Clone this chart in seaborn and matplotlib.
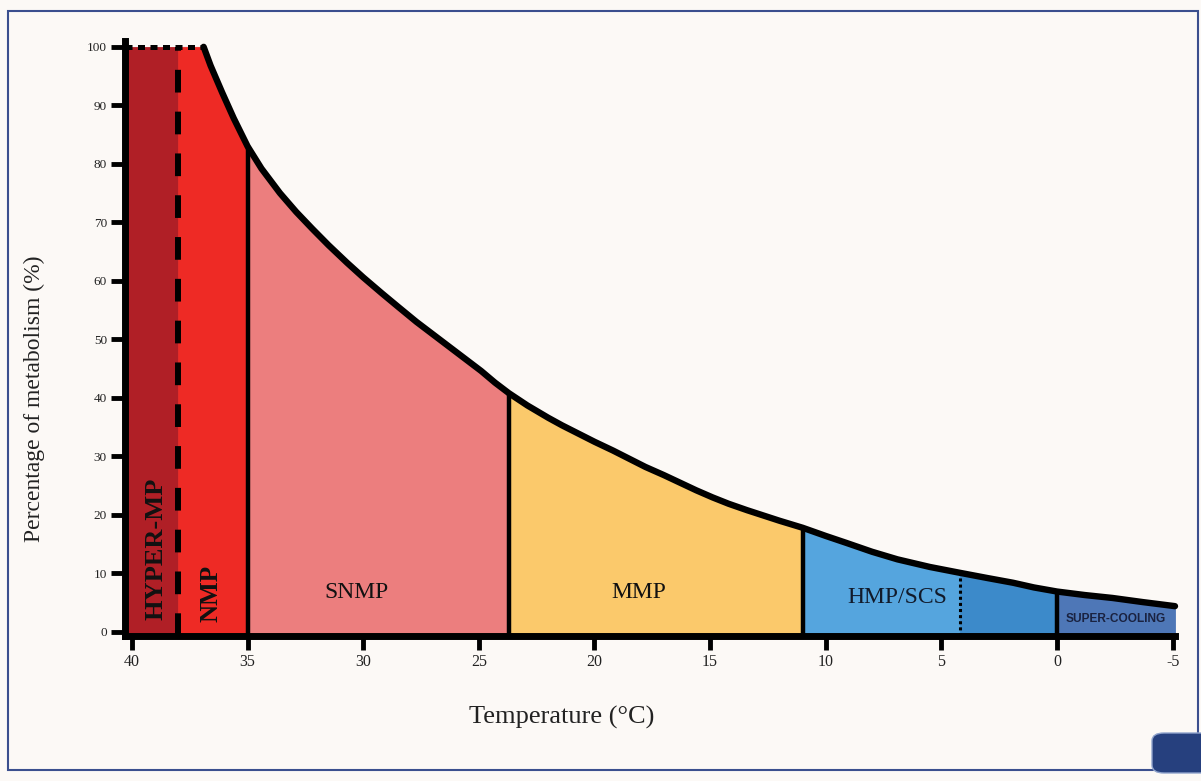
import matplotlib
matplotlib.use("Agg")
import matplotlib.pyplot as plt
from matplotlib.patches import Rectangle, FancyBboxPatch
import numpy as np
import seaborn as sns

# values (temperature in degC, metabolism in %)
temperature = [40.3, 38, 36.9, 36.6, 36.1, 35.6, 35, 34.4, 33.6, 32.9, 32.2, 31.5,
               30.7, 30.0, 29.2, 28.5, 27.7, 27.0, 26.3, 25.6, 24.9, 24.3, 23.7,
               22.9, 22.0, 21.4, 20.8, 20.0, 19.2, 18.5, 17.8, 17.0, 16.3, 15.6,
               14.9, 14.2, 13.4, 12.7, 12.0, 11.0, 10.0, 9.1, 8.0, 6.9, 5.5, 4.2,
               3.0, 1.9, 1.0, 0, -1.2, -2.4, -3.7, -5.1]
metabolism = [100, 100, 100, 96.8, 92.2, 87.8, 83, 79.2, 75.0, 71.8, 68.9, 66.1,
              63.1, 60.6, 57.9, 55.6, 53.0, 50.9, 48.8, 46.7, 44.6, 42.6, 40.8,
              38.7, 36.6, 35.3, 34.1, 32.5, 31.0, 29.6, 28.2, 26.8, 25.5, 24.2,
              23.0, 21.9, 20.8, 19.9, 19.0, 17.8, 16.4, 15.2, 13.7, 12.4, 11.1, 10.1,
              9.2, 8.4, 7.6, 6.9, 6.3, 5.8, 5.1, 4.4]

# zones: label, from temp, to temp, colour
zone_names = ["HYPER-MP", "NMP", "SNMP", "MMP", "HMP/SCS", "HMP/SCS deep", "SUPER-COOLING"]
zone_starts = [40.3, 38, 35, 23.7, 11, 4.2, 0]
zone_ends = [38, 35, 23.7, 11, 4.2, 0, -5.1]
zone_colors = ["#B01F26", "#EE2A25", "#EC7E7E", "#FBC96B", "#55A5DE", "#3C8ACA", "#4E77B7"]

solid_edges = [35, 23.7, 11, 0]
dashed_edge = 38
dotted_edge = 4.2
plateau_end = 36.9

x_ticks = [40, 35, 30, 25, 20, 15, 10, 5, 0, -5]
y_ticks = [0, 10, 20, 30, 40, 50, 60, 70, 80, 90, 100]

bg = "#FCF9F6"
sns.set_style("white")
plt.rcParams["font.family"] = ["Liberation Serif", "DejaVu Serif"]

T = np.array(temperature)
M = np.array(metabolism)

def curve_at(t):
    return M[np.argmin(np.abs(T - t))]

fig = plt.figure(figsize=(12.01, 7.81), dpi=100, facecolor=bg)
W, H = 1201, 781
ax = fig.add_axes([125 / W, (H - 636) / H, 1050 / W, (636 - 41) / H])
ax.set_facecolor(bg)
ax.set_xlim(40.3, -5.1)
ax.set_ylim(-0.7, 101)

# filled zones under the curve
for name, a, b, c in zip(zone_names, zone_starts, zone_ends, zone_colors):
    m = (T <= a + 1e-9) & (T >= b - 1e-9)
    ax.fill_between(T[m], -0.7, M[m], facecolor=c, edgecolor=c, lw=0.6, zorder=1)

# zone boundaries
for e in solid_edges:
    ax.plot([e, e], [-0.7, curve_at(e)], color="black", lw=3.2, zorder=3)
ax.plot([dashed_edge, dashed_edge], [-0.7, 100], color="black", lw=4.3,
        dashes=(3.8, 3.2), zorder=3)
ax.plot([dotted_edge, dotted_edge], [-0.7, curve_at(dotted_edge)], color="black",
        lw=2.2, dashes=(1, 1), zorder=3)

# metabolism curve
m = T <= plateau_end
sns.lineplot(x=T[m], y=M[m], ax=ax, color="black", lw=4.6, estimator=None,
             zorder=4, clip_on=False)
m = T >= plateau_end
ax.plot(T[m], M[m], color="black", lw=3.6, dashes=(1.4, 1.1), zorder=4, clip_on=False)

# zone labels
ax.text(38.96, 14.2, "HYPER-MP", rotation=90, ha="center", va="center",
        fontsize=19, fontweight="bold", color="#111111", zorder=5)
ax.text(36.6, 6.6, "NMP", rotation=90, ha="center", va="center",
        fontsize=18, fontweight="bold", color="#111111", zorder=5)
ax.text(30.3, 6.7, "SNMP", ha="center", va="center", fontsize=17, color="#111111", zorder=5)
ax.text(18.1, 6.7, "MMP", ha="center", va="center", fontsize=17, color="#111111", zorder=5)
ax.text(6.9, 5.8, "HMP/SCS", ha="center", va="center", fontsize=17, color="#111a2a", zorder=5)
ax.text(-2.55, 2.2, "SUPER-COOLING", ha="center", va="center", fontsize=8.6,
        fontweight="bold", color="#1A2240", family=["Liberation Sans", "DejaVu Sans"], zorder=5)

# axes styling
for s in ["top", "right"]:
    ax.spines[s].set_visible(False)
for s in ["left", "bottom"]:
    ax.spines[s].set_linewidth(5)
    ax.spines[s].set_color("black")
    ax.spines[s].set_zorder(6)
ax.set_xticks(x_ticks)
ax.set_xticklabels([str(v) for v in x_ticks])
ax.set_yticks(y_ticks)
ax.set_yticklabels([str(v) for v in y_ticks])
ax.tick_params(axis="both", bottom=True, left=True, direction="out", length=10,
               width=3.5, color="black", labelcolor="#222222", pad=3)
ax.tick_params(axis="x", labelsize=11.5)
ax.tick_params(axis="y", labelsize=9.5)
ax.set_xlabel("Temperature (°C)", fontsize=19, color="#222222")
ax.set_ylabel("Percentage of metabolism (%)", fontsize=17, color="#222222")
ax.xaxis.set_label_coords(0.416, -0.118)
ax.yaxis.set_label_coords(-0.076, 0.398)

# frame and corner badge
fig.patches.append(Rectangle((8 / W, 11 / H), (1198 - 8) / W, (770 - 11) / H,
                             transform=fig.transFigure, fill=False,
                             edgecolor="#3B4F8E", lw=1.5))
fig.patches.append(FancyBboxPatch((1152 / W, 8 / H), 60 / W, 40 / H,
                                  boxstyle="round,pad=0,rounding_size=0.01",
                                  transform=fig.transFigure, facecolor="#26407E",
                                  edgecolor="#8FA3CC", lw=1))

fig.savefig("out.png", dpi=100, facecolor=bg)
